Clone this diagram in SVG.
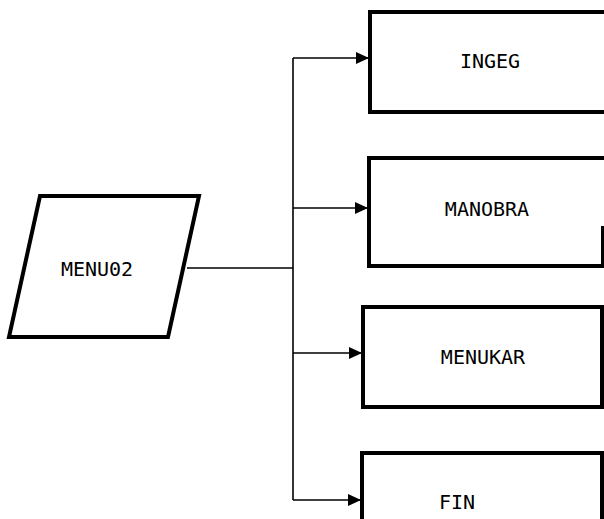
<svg xmlns="http://www.w3.org/2000/svg" width="604" height="519" viewBox="0 0 604 519">
<style>
.shape{fill:#fff;stroke:#000;stroke-width:4;stroke-linejoin:miter}
.conn{fill:none;stroke:#000;stroke-width:1.6}
.lbl{font-family:"DejaVu Sans Mono","Liberation Mono",monospace;font-size:20px;fill:#000;text-anchor:middle}
</style>
<defs>
<marker id="ah" viewBox="0 0 13 12" refX="13" refY="6" markerWidth="13" markerHeight="12" markerUnits="userSpaceOnUse" orient="auto">
<path d="M0,0 L13,6 L0,12 Z" fill="#000"/>
</marker>
</defs>
<rect width="604" height="519" fill="#fff"/>
<g id="menu02">
<polygon class="shape" points="40,196 199,196 168,337 9,337"/>
<text class="lbl" x="97" y="276">MENU02</text>
</g>
<g id="ingeg">
<rect class="shape" x="370" y="12" width="240" height="100"/>
<text class="lbl" x="490" y="68">INGEG</text>
</g>
<g id="manobra">
<path class="shape" d="M610,158 L369,158 L369,266 L603,266 L603,226"/>
<text class="lbl" x="487" y="216">MANOBRA</text>
</g>
<g id="menukar">
<rect class="shape" x="363" y="307" width="239" height="100"/>
<text class="lbl" x="483" y="364">MENUKAR</text>
</g>
<g id="fin">
<path class="shape" d="M362,525 L362,453 L602,453 L602,525"/>
<text class="lbl" x="457" y="509">FIN</text>
</g>
<g id="connectors">
<path class="conn" d="M187,268 L293,268"/>
<path class="conn" d="M293,58 L293,500"/>
<path class="conn" d="M293,58 L369,58" marker-end="url(#ah)"/>
<path class="conn" d="M293,208 L368,208" marker-end="url(#ah)"/>
<path class="conn" d="M293,353 L362,353" marker-end="url(#ah)"/>
<path class="conn" d="M293,500 L361,500" marker-end="url(#ah)"/>
</g>
</svg>
